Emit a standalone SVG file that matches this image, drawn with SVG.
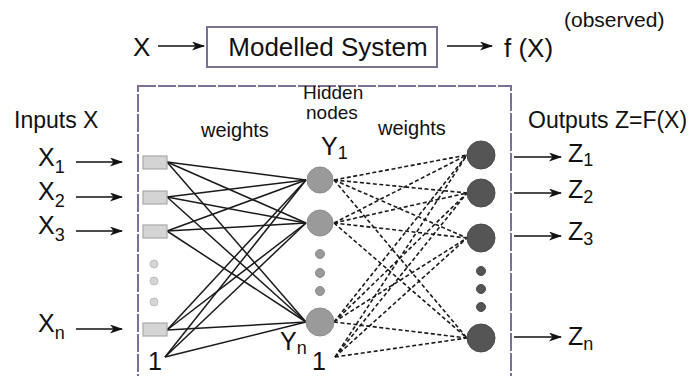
<svg xmlns="http://www.w3.org/2000/svg" width="690" height="376" viewBox="0 0 690 376">
  <defs>
    <marker id="arrow" viewBox="0 0 13 9" refX="12" refY="4.5" markerWidth="13" markerHeight="9" markerUnits="userSpaceOnUse" orient="auto">
      <path d="M0,0 L13,4.5 L0,9 L3.5,4.5 Z" fill="#111"/>
    </marker>
  </defs>
  <style>
    text { font-family: "Liberation Sans", Arial, sans-serif; fill: #111; }
    .big { font-size: 26px; }
    .lbl { font-size: 23px; }
    .var { font-size: 25px; }
    .sm { font-size: 20px; }
    .hn { font-size: 19px; }
    .obs { font-size: 21px; }
    .sub { font-size: 18px; }
    .arr { stroke: #111; stroke-width: 1.5; fill: none; marker-end: url(#arrow); }
    .frame { fill: none; stroke: #7d7097; stroke-width: 2; }
    .nbox { fill: none; stroke: #7d7097; stroke-width: 2; stroke-dasharray: 18 2; }
    .inp { fill: #d4d4d4; stroke: #a8a8a8; stroke-width: 1.2; }
    .idot { fill: #d4d4d4; stroke: #c0c0c0; stroke-width: 1; }
    .hid { fill: #9a9a9a; stroke: #8c8c8c; stroke-width: 1; }
    .out { fill: #555; stroke: #4a4a4a; stroke-width: 1; }
    .solid line { stroke: #1a1a1a; stroke-width: 1.5; }
    .dash line { stroke: #1a1a1a; stroke-width: 1.6; stroke-dasharray: 4 2.5; }
  </style>

  <rect width="690" height="376" fill="#fff"/>

  <!-- top: modelled system -->
  <g id="top-input"><text class="big" x="133" y="56">X</text></g>
  <g id="modelled-system">
    <rect class="frame" x="207" y="27" width="230" height="40"/>
    <text class="big" x="328" y="56" text-anchor="middle">Modelled System</text>
  </g>
  <g id="top-output">
    <text class="big" x="504" y="57">f (X)</text>
    <text class="obs" x="564" y="27">(observed)</text>
  </g>
  <g id="top-arrows">
    <line class="arr" x1="158" y1="46" x2="204" y2="46"/>
    <line class="arr" x1="447" y1="46" x2="492" y2="46"/>
  </g>

  <!-- network frame -->
  <g id="network-frame">
    <rect class="nbox" x="138" y="86" width="373" height="320"/>
  </g>

  <!-- headings -->
  <g id="headings">
    <text class="lbl" x="14" y="128">Inputs X</text>
    <text class="sm" x="201" y="137">weights</text>
    <text class="hn" x="303" y="99">Hidden</text>
    <text class="hn" x="306" y="119">nodes</text>
    <text class="sm" x="378" y="135">weights</text>
    <text class="lbl" x="528" y="128">Outputs Z=F(X)</text>
  </g>

  <!-- input -> hidden weights -->
  <g id="weights-1" class="solid">
    <line x1="167" y1="162" x2="306" y2="180"/>
    <line x1="167" y1="162" x2="306" y2="223"/>
    <line x1="167" y1="162" x2="306" y2="322"/>
    <line x1="167" y1="197" x2="306" y2="180"/>
    <line x1="167" y1="197" x2="306" y2="223"/>
    <line x1="167" y1="197" x2="306" y2="322"/>
    <line x1="167" y1="231" x2="306" y2="180"/>
    <line x1="167" y1="231" x2="306" y2="223"/>
    <line x1="167" y1="231" x2="306" y2="322"/>
    <line x1="167" y1="330" x2="306" y2="180"/>
    <line x1="167" y1="330" x2="306" y2="223"/>
    <line x1="167" y1="330" x2="306" y2="322"/>
    <line x1="165" y1="357" x2="306" y2="180"/>
    <line x1="165" y1="357" x2="306" y2="223"/>
    <line x1="165" y1="357" x2="306" y2="322"/>
  </g>

  <!-- hidden -> output weights -->
  <g id="weights-2" class="dash">
    <line x1="334" y1="180" x2="467" y2="155"/>
    <line x1="334" y1="180" x2="467" y2="193"/>
    <line x1="334" y1="180" x2="467" y2="238"/>
    <line x1="334" y1="180" x2="467" y2="338"/>
    <line x1="334" y1="223" x2="467" y2="155"/>
    <line x1="334" y1="223" x2="467" y2="193"/>
    <line x1="334" y1="223" x2="467" y2="238"/>
    <line x1="334" y1="223" x2="467" y2="338"/>
    <line x1="334" y1="322" x2="467" y2="155"/>
    <line x1="334" y1="322" x2="467" y2="193"/>
    <line x1="334" y1="322" x2="467" y2="238"/>
    <line x1="334" y1="322" x2="467" y2="338"/>
    <line x1="335" y1="357" x2="467" y2="155"/>
    <line x1="335" y1="357" x2="467" y2="193"/>
    <line x1="335" y1="357" x2="467" y2="238"/>
    <line x1="335" y1="357" x2="467" y2="338"/>
  </g>

  <!-- input nodes -->
  <g id="input-x1">
    <text class="var" x="38" y="166">X<tspan class="sub" dy="7">1</tspan></text>
    <line class="arr" x1="76" y1="162" x2="122" y2="162"/>
    <rect class="inp" x="143" y="156" width="24" height="13"/>
  </g>
  <g id="input-x2">
    <text class="var" x="38" y="200">X<tspan class="sub" dy="7">2</tspan></text>
    <line class="arr" x1="76" y1="197" x2="122" y2="197"/>
    <rect class="inp" x="143" y="191" width="24" height="13"/>
  </g>
  <g id="input-x3">
    <text class="var" x="38" y="234">X<tspan class="sub" dy="7">3</tspan></text>
    <line class="arr" x1="76" y1="231" x2="122" y2="231"/>
    <rect class="inp" x="143" y="225" width="24" height="13"/>
  </g>
  <g id="input-dots">
    <circle class="idot" cx="154" cy="264" r="4"/>
    <circle class="idot" cx="154" cy="281" r="4"/>
    <circle class="idot" cx="154" cy="302" r="4"/>
  </g>
  <g id="input-xn">
    <text class="var" x="38" y="332">X<tspan class="sub" dy="7">n</tspan></text>
    <line class="arr" x1="76" y1="329" x2="122" y2="329"/>
    <rect class="inp" x="143" y="323" width="24" height="13"/>
  </g>
  <g id="input-bias"><text class="var" x="148" y="370">1</text></g>

  <!-- hidden nodes -->
  <g id="hidden-y1">
    <text class="var" x="321" y="155">Y<tspan class="sub" dy="4">1</tspan></text>
    <circle class="hid" cx="320" cy="180" r="13"/>
  </g>
  <g id="hidden-y2"><circle class="hid" cx="320" cy="223" r="13"/></g>
  <g id="hidden-dots">
    <circle class="hid" cx="320" cy="254" r="4.5"/>
    <circle class="hid" cx="320" cy="273" r="4.5"/>
    <circle class="hid" cx="320" cy="291" r="4.5"/>
  </g>
  <g id="hidden-yn">
    <text class="var" x="280" y="350">Y<tspan class="sub" dy="4">n</tspan></text>
    <circle class="hid" cx="320" cy="322" r="14"/>
  </g>
  <g id="hidden-bias"><text class="var" x="312" y="370">1</text></g>

  <!-- output nodes -->
  <g id="output-z1">
    <circle class="out" cx="481" cy="155" r="14"/>
    <line class="arr" x1="514" y1="157" x2="561" y2="157"/>
    <text class="var" x="568" y="162">Z<tspan class="sub" dy="4">1</tspan></text>
  </g>
  <g id="output-z2">
    <circle class="out" cx="481" cy="193" r="14"/>
    <line class="arr" x1="514" y1="193" x2="561" y2="193"/>
    <text class="var" x="568" y="198">Z<tspan class="sub" dy="5">2</tspan></text>
  </g>
  <g id="output-z3">
    <circle class="out" cx="481" cy="238" r="14"/>
    <line class="arr" x1="514" y1="236" x2="561" y2="236"/>
    <text class="var" x="568" y="240">Z<tspan class="sub" dy="5">3</tspan></text>
  </g>
  <g id="output-dots">
    <circle class="out" cx="481" cy="271" r="4.5"/>
    <circle class="out" cx="481" cy="289" r="4.5"/>
    <circle class="out" cx="481" cy="307" r="4.5"/>
  </g>
  <g id="output-zn">
    <circle class="out" cx="481" cy="338" r="14"/>
    <line class="arr" x1="514" y1="337" x2="561" y2="337"/>
    <text class="var" x="568" y="345">Z<tspan class="sub" dy="5">n</tspan></text>
  </g>
</svg>
